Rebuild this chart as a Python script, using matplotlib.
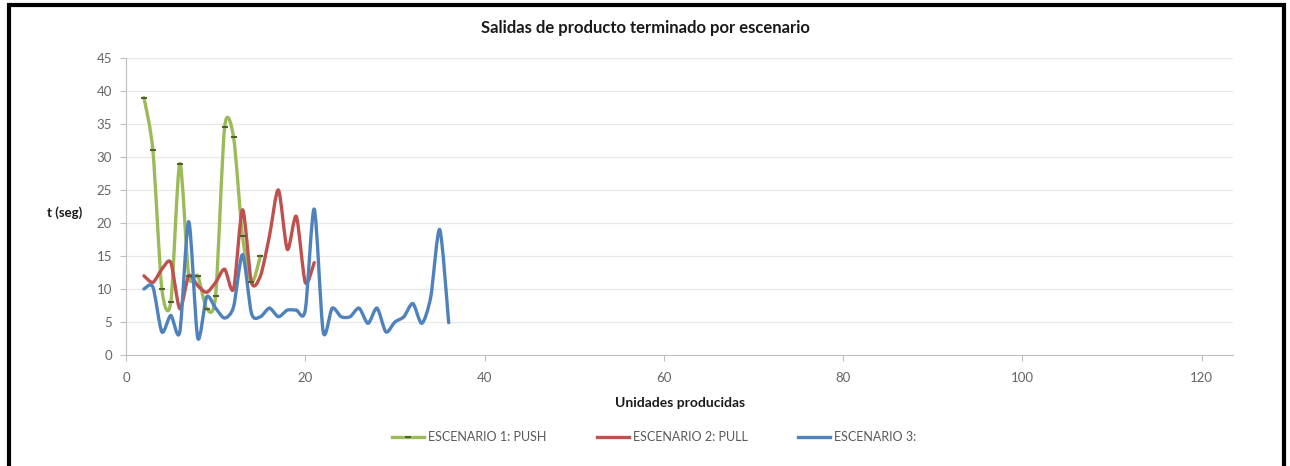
import numpy as np
import matplotlib
matplotlib.use("Agg")
import matplotlib.pyplot as plt
from matplotlib.path import Path
from matplotlib.patches import PathPatch, Rectangle
from matplotlib.lines import Line2D

plt.rcParams['font.family'] = ['Lato', 'DejaVu Sans']

# data
x_push = [2, 3, 4, 5, 6, 7, 8, 9, 10, 11, 12, 13, 14, 15]
y_push = [39, 31, 10, 8, 29, 12, 12, 7, 9, 34.5, 33, 18, 11, 15]

x_pull = list(range(2, 22))
y_pull = [12, 11, 13, 14, 7, 12, 10.5, 9.5, 11, 13, 10, 22, 11, 12, 18, 25, 16, 21, 11, 14]

x_esc3 = list(range(2, 37))
y_esc3 = [10, 10.3, 3.5, 6, 3.5, 20.2, 2.6, 8.8, 7.1, 5.6, 7.3, 15.2, 6.3, 5.8, 7.1,
          5.8, 6.8, 6.8, 6.8, 22.1, 3.5, 7.1, 5.8, 5.8, 7.1, 4.8, 7.1, 3.5, 5, 5.8,
          7.8, 4.8, 8.8, 19, 4.9]

labels = ['ESCENARIO 1: PUSH', 'ESCENARIO 2: PULL', 'ESCENARIO 3:']
colors = ['#9BBB59', '#C0504D', '#4F81BD']

x_ticks = [0, 20, 40, 60, 80, 100, 120]
y_ticks = [0, 5, 10, 15, 20, 25, 30, 35, 40, 45]


def smooth_path(xs, ys, k=7.5):
    # Excel style smoothed line: Catmull-Rom segments drawn as cubic beziers
    p = np.column_stack([xs, ys]).astype(float)
    ext = np.vstack([p[0], p, p[-1]])
    verts = [p[0]]
    codes = [Path.MOVETO]
    for i in range(1, len(ext) - 2):
        c1 = ext[i] + (ext[i + 1] - ext[i - 1]) / k
        c2 = ext[i + 1] - (ext[i + 2] - ext[i]) / k
        verts += [c1, c2, ext[i + 1]]
        codes += [Path.CURVE4] * 3
    return Path(verts, codes)


fig = plt.figure(figsize=(12.9, 4.66), dpi=100)
ax = fig.add_axes([126 / 1290, 1 - 355 / 466, (1233 - 126) / 1290, (355 - 58) / 466])

for xs, ys, c in zip([x_push, x_pull, x_esc3], [y_push, y_pull, y_esc3], colors):
    ax.add_patch(PathPatch(smooth_path(xs, ys), facecolor='none', edgecolor=c,
                           lw=2.4, capstyle='round', joinstyle='round'))
ax.plot(x_push, y_push, ls='none', marker='_', ms=5, mew=1.5, color='#4F6228')

ax.set_xlim(0, 123.5)
ax.set_ylim(0, 45)
ax.set_xticks(x_ticks)
ax.set_yticks(y_ticks)
ax.grid(axis='y', color='#E8E8E8', lw=0.9)
ax.set_axisbelow(True)
for s in ['top', 'right']:
    ax.spines[s].set_visible(False)
for s in ['left', 'bottom']:
    ax.spines[s].set_color('#BFBFBF')
ax.tick_params(colors='#BFBFBF', labelcolor='#666666', labelsize=9.5, length=4)
ax.tick_params(axis='x', pad=8)
ax.tick_params(axis='y', pad=6)

fig.text(645 / 1290, 1 - 28 / 466, 'Salidas de producto terminado por escenario',
         ha='center', va='center', fontsize=12, fontweight='bold', color='#1A1A1A')
fig.text(82 / 1290, 1 - 213 / 466, 't (seg)', ha='right', va='center',
         fontsize=9.5, fontweight='bold', color='#1A1A1A')
fig.text(680 / 1290, 1 - 403 / 466, 'Unidades producidas', ha='center', va='center',
         fontsize=10, fontweight='bold', color='#1A1A1A')

handles = [Line2D([], [], color=colors[0], lw=2.4, marker='_', ms=5, mew=1.5,
                  markeredgecolor='#4F6228'),
           Line2D([], [], color=colors[1], lw=2.4),
           Line2D([], [], color=colors[2], lw=2.4)]
leg = fig.legend(handles, labels, loc='center', ncol=3, frameon=False,
                 bbox_to_anchor=(654 / 1290, 1 - 437 / 466), fontsize=9,
                 handlelength=2.6, handletextpad=0.3, columnspacing=4.0)
for t in leg.get_texts():
    t.set_color('#595959')

fig.patches.append(Rectangle((9 / 1290, -0.02), (1284 - 9) / 1290, 1 - 5 / 466 + 0.02,
                             transform=fig.transFigure, fill=False,
                             edgecolor='black', lw=3))

fig.savefig('out.png', dpi=100)
